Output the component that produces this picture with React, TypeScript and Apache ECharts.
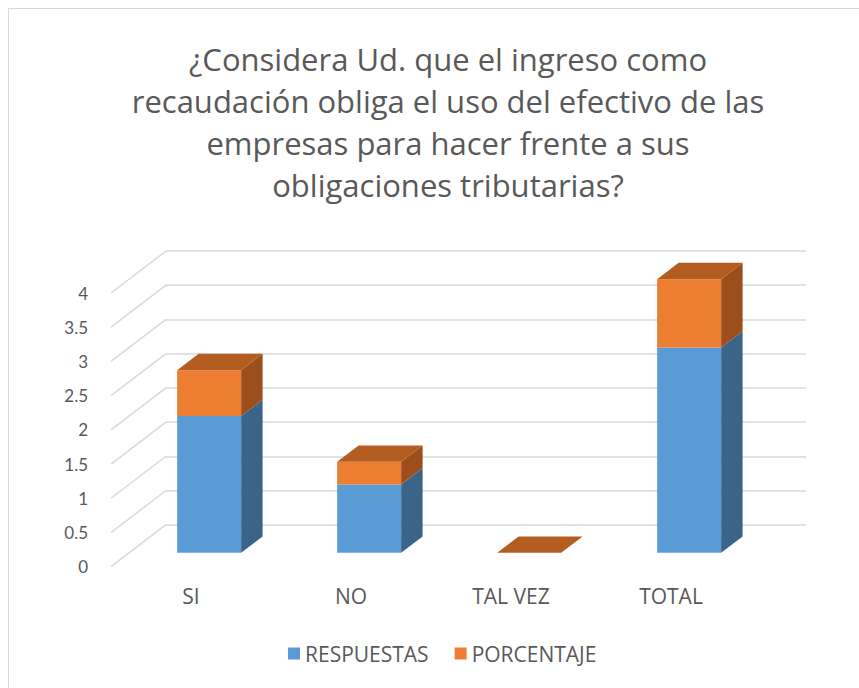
import React, { useEffect, useRef } from "react";
import * as echarts from "echarts";

const categories = ["SI", "NO", "TAL VEZ", "TOTAL"];
const respuestas = [2, 1, 0, 3];
const porcentaje = [0.67, 0.33, 0, 1];
const yTicks = [0, 0.5, 1, 1.5, 2, 2.5, 3, 3.5, 4];
const titleLines = [
  "¿Considera Ud. que el ingreso como",
  "recaudación obliga el uso del efectivo de las",
  "empresas para hacer frente a sus",
  "obligaciones tributarias?",
];

const FONT = "'Open Sans', Lato, sans-serif";
const NUMFONT = "Lato, 'Open Sans', sans-serif";
const TXT = "#595959";
const GRIDC = "#d9d9d9";
const DEPTH = [-55, 42];
const FRONT_FRAC = 0.67;
const BACK_FRAC = 0.28;
const BAR_FRAC = 0.4;

const BLUE = { front: "#5B9BD5", side: "#3A6589", top: "#4A7DAE" };
const ORANGE = { front: "#ED7D31", side: "#9C4F1D", top: "#B45D21" };

function boxRenderer(colors: any, drawTop: boolean) {
  return (params: any, api: any) => {
    const idx = api.value(0);
    const v0 = api.value(1);
    const v1 = api.value(2);
    const catW = api.size([1, 0])[0];
    const bw = catW * BAR_FRAC;
    const p0 = api.coord([idx, v0]);
    const p1 = api.coord([idx, v1]);
    const fx = DEPTH[0] * FRONT_FRAC;
    const fy = DEPTH[1] * FRONT_FRAC;
    const sdx = -DEPTH[0] * (FRONT_FRAC - BACK_FRAC);
    const sdy = -DEPTH[1] * (FRONT_FRAC - BACK_FRAC);
    const x0 = p0[0] + fx - bw / 2;
    const x1 = x0 + bw;
    const yb = p0[1] + fy;
    const yt = p1[1] + fy;
    const children: any[] = [];
    if (yb - yt > 0.01) {
      children.push({
        type: "rect",
        shape: { x: x0, y: yt, width: bw, height: yb - yt },
        style: { fill: colors.front },
      });
      children.push({
        type: "polygon",
        shape: {
          points: [
            [x1, yt],
            [x1 + sdx, yt + sdy],
            [x1 + sdx, yb + sdy],
            [x1, yb],
          ],
        },
        style: { fill: colors.side },
      });
    }
    if (drawTop) {
      children.push({
        type: "polygon",
        shape: {
          points: [
            [x0, yt],
            [x1, yt],
            [x1 + sdx, yt + sdy],
            [x0 + sdx, yt + sdy],
          ],
        },
        style: { fill: colors.top },
      });
    }
    return { type: "group", children };
  };
}

export default function App() {
  const ref = useRef<HTMLDivElement>(null);
  useEffect(() => {
    if (!ref.current) return;
    const chart = echarts.init(ref.current, undefined, { renderer: "svg" });
    const blueData = categories.map((_, i) => [i, 0, respuestas[i]]);
    const orangeData = categories.map((_, i) => [i, respuestas[i], respuestas[i] + porcentaje[i]]);
    chart.setOption({
      animation: false,
      backgroundColor: "#ffffff",
      title: {
        text: titleLines.join("\n"),
        left: 443,
        textAlign: "center",
        top: 33,
        textStyle: {
          fontFamily: FONT,
          fontSize: 31,
          fontWeight: "normal",
          color: TXT,
          lineHeight: 42,
        },
      },
      legend: {
        data: ["RESPUESTAS", "PORCENTAJE"],
        left: 283,
        top: 638,
        itemWidth: 12,
        itemHeight: 12,
        itemGap: 26,
        icon: "rect",
        textStyle: { fontFamily: FONT, fontSize: 21, color: TXT },
      },
      grid: [
        { left: 166, right: 53, top: 251, bottom: 163.3 },
        { left: 111, right: 108, top: 293, bottom: 121.3 },
      ],
      xAxis: [
        {
          type: "category",
          gridIndex: 0,
          data: categories,
          axisLine: { show: false },
          axisTick: { show: false },
          axisLabel: { show: false },
        },
        {
          type: "category",
          gridIndex: 1,
          data: categories,
          axisLine: { show: false },
          axisTick: { show: false },
          axisLabel: {
            fontFamily: FONT,
            fontSize: 21,
            color: TXT,
            margin: 19,
          },
        },
      ],
      yAxis: [
        {
          type: "value",
          gridIndex: 0,
          min: 0,
          max: 4,
          interval: 0.5,
          axisLabel: { show: false },
          axisLine: { show: false },
          axisTick: { show: false },
          splitLine: { lineStyle: { color: GRIDC, width: 1.5 } },
        },
        {
          type: "value",
          gridIndex: 1,
          min: 0,
          max: 4,
          interval: 0.5,
          axisLabel: { fontFamily: NUMFONT, fontSize: 17, color: TXT, margin: 23 },
          axisLine: { show: false },
          axisTick: { show: false },
          splitLine: { show: false },
        },
      ],
      series: [
        {
          type: "custom",
          name: "diag",
          xAxisIndex: 0,
          yAxisIndex: 0,
          silent: true,
          z: 1,
          data: yTicks.map((v) => [0, v]),
          encode: { x: 0, y: 1 },
          renderItem: (params: any, api: any) => {
            const p = api.coord([0, api.value(1)]);
            const left = p[0] - api.size([1, 0])[0] / 2;
            return {
              type: "line",
              shape: { x1: left, y1: p[1], x2: left + DEPTH[0], y2: p[1] + DEPTH[1] },
              style: { stroke: GRIDC, lineWidth: 1.5 },
            };
          },
        },
        {
          type: "custom",
          name: "RESPUESTAS",
          xAxisIndex: 0,
          yAxisIndex: 0,
          z: 2,
          itemStyle: { color: BLUE.front },
          data: blueData,
          encode: { x: 0, y: [1, 2] },
          renderItem: (params: any, api: any) => {
            const i = api.value(0);
            const hasAbove = porcentaje[i] > 0;
            return boxRenderer(BLUE, !hasAbove && respuestas[i] > 0)(params, api);
          },
        },
        {
          type: "custom",
          name: "PORCENTAJE",
          xAxisIndex: 0,
          yAxisIndex: 0,
          z: 3,
          itemStyle: { color: ORANGE.front },
          data: orangeData,
          encode: { x: 0, y: [1, 2] },
          renderItem: boxRenderer(ORANGE, true),
        },
      ],
    });
    return () => chart.dispose();
  }, []);

  return (
    <div style={{ position: "fixed", left: 0, top: 0, width: 859, height: 688, overflow: "hidden", background: "#fff" }}>
      <div ref={ref} style={{ position: "absolute", left: 0, top: 0, width: 859, height: 688 }} />
      <div
        style={{
          position: "absolute",
          left: 8,
          top: 8,
          width: 900,
          height: 720,
          borderLeft: "1.5px solid #d9d9d9",
          borderTop: "1.5px solid #d9d9d9",
          pointerEvents: "none",
        }}
      />
    </div>
  );
}
